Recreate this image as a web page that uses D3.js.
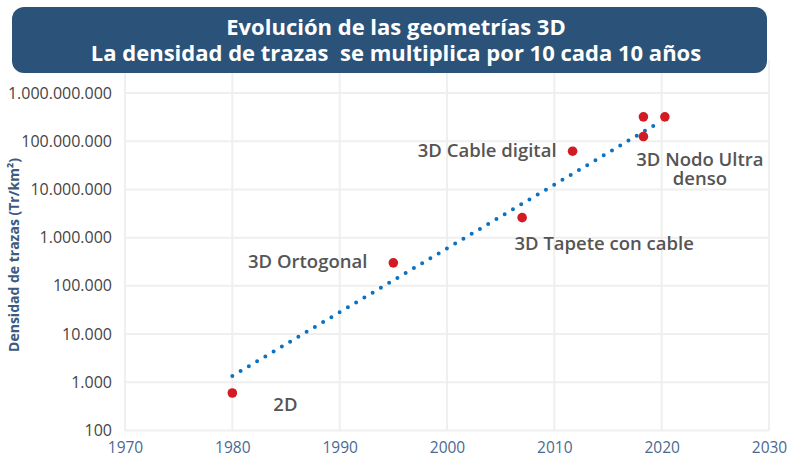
<!DOCTYPE html>
<html>
<head>
<meta charset="utf-8">
<style>
  body { margin: 0; background: #fff; }
  svg { display: block; font-family: "Open Sans", sans-serif; }
</style>
</head>
<body>
<svg id="chart" width="789" height="464"></svg>
<script src="https://d3js.org/d3.v7.min.js"></script>
<script>
    // data
    let names = ['2D', '3D Ortogonal', '3D Tapete con cable', '3D Cable digital',
        '3D Nodo Ultra denso', '3D Nodo Ultra denso', '3D Nodo Ultra denso']
    let years = [1980, 1995, 2007, 2011.7, 2018.3, 2018.3, 2020.3]
    let densities = [600, 300000, 2600000, 62000000, 320000000, 125000000, 320000000]

    // trend line end points (exponential fit, straight on log scale)
    let trendYears = [1980, 2019.4]
    let trendValues = [1350, 220000000]

    let xTicks = [1970, 1980, 1990, 2000, 2010, 2020, 2030]
    let yTicks = [100, 1000, 10000, 100000, 1000000, 10000000, 100000000, 1000000000]

    let titleLines = ['Evolución de las geometrías 3D',
        'La densidad de trazas  se multiplica por 10 cada 10 años']
    let yTitle = 'Densidad de trazas (Tr/km²)'

    let svg = d3.select('#chart')

    let x = d3.scaleLinear().domain([1970, 2030]).range([125, 769])
    let y = d3.scaleLog().domain([100, 1000000000]).range([430.5, 93])

    let es = d3.formatLocale({decimal: ',', thousands: '.', grouping: [3], currency: ['', '']})
    let fmt = es.format(',d')

    // grid
    svg.append('g').selectAll('line').data(xTicks).join('line')
        .attr('x1', d => x(d)).attr('x2', d => x(d))
        .attr('y1', 60).attr('y2', 430.5)
        .attr('stroke', '#efefef').attr('stroke-width', 2)
    svg.append('g').selectAll('line').data(yTicks).join('line')
        .attr('x1', 125).attr('x2', 769)
        .attr('y1', d => y(d)).attr('y2', d => y(d))
        .attr('stroke', '#efefef').attr('stroke-width', 2)

    // axes (no domain lines, labels only)
    let yAxis = svg.append('g').attr('transform', 'translate(125,0)')
        .call(d3.axisLeft(y).tickValues(yTicks).tickFormat(fmt).tickSize(0).tickPadding(13))
    yAxis.select('.domain').remove()
    yAxis.selectAll('text').attr('fill', '#444').style('font-size', '16px')
        .style('font-family', '"Open Sans", sans-serif')

    let xAxis = svg.append('g').attr('transform', 'translate(0,430.5)')
        .call(d3.axisBottom(x).tickValues(xTicks).tickFormat(d3.format('d')).tickSize(0).tickPadding(11))
    xAxis.select('.domain').remove()
    xAxis.selectAll('text').attr('fill', '#4a6a90').style('font-size', '15.5px')
        .style('font-family', '"Open Sans", sans-serif')

    // y axis title
    svg.append('text')
        .attr('transform', 'translate(19,255) rotate(-90)')
        .attr('text-anchor', 'middle')
        .attr('fill', '#3d5a80')
        .style('font-size', '14px').style('font-weight', 'bold')
        .text(yTitle)

    // trend line
    let trend = trendYears.map((t, i) => [t, trendValues[i]])
    svg.append('path')
        .datum(trend)
        .attr('d', d3.line().x(d => x(d[0])).y(d => y(d[1])))
        .attr('fill', 'none')
        .attr('stroke', '#0a72c0')
        .attr('stroke-width', 4)
        .attr('stroke-linecap', 'round')
        .attr('stroke-dasharray', '0 9.6')

    // points
    svg.append('g').selectAll('circle').data(years).join('circle')
        .attr('cx', d => x(d))
        .attr('cy', (d, i) => y(densities[i]))
        .attr('r', 4.8)
        .attr('fill', '#d21c24')

    // annotations
    let annot = [
        {i: 0, text: ['2D'], dx: 41, dy: 18, anchor: 'start'},
        {i: 1, text: ['3D Ortogonal'], dx: -26, dy: 5.5, anchor: 'end'},
        {i: 2, text: ['3D Tapete con cable'], dx: 82, dy: 32, anchor: 'middle'},
        {i: 3, text: ['3D Cable digital'], dx: -16, dy: 5.5, anchor: 'end'},
        {i: 6, text: ['3D Nodo Ultra', 'denso'], dx: 35, dy: 49, anchor: 'middle'}
    ]
    annot.forEach(a => {
        let t = svg.append('text')
            .attr('x', x(years[a.i]) + a.dx)
            .attr('y', y(densities[a.i]) + a.dy)
            .attr('text-anchor', a.anchor)
            .attr('fill', '#555')
            .style('font-size', '18.5px')
            .style('font-weight', 600)
        a.text.forEach((line, k) => {
            t.append('tspan').attr('x', x(years[a.i]) + a.dx).attr('dy', k === 0 ? 0 : 19.5).text(line)
        })
    })

    // title box
    svg.append('rect')
        .attr('x', 12).attr('y', 7).attr('width', 755).attr('height', 66)
        .attr('rx', 12).attr('ry', 12)
        .attr('fill', '#2b5379')
    svg.append('text')
        .attr('x', 396).attr('y', 34.5)
        .attr('text-anchor', 'middle')
        .attr('fill', '#fff')
        .style('font-size', '22px').style('font-weight', 'bold')
        .style('white-space', 'pre')
        .selectAll('tspan').data(titleLines).join('tspan')
        .attr('x', 396)
        .attr('dy', (d, i) => i === 0 ? 0 : 26.5)
        .text(d => d)
</script>
</body>
</html>
